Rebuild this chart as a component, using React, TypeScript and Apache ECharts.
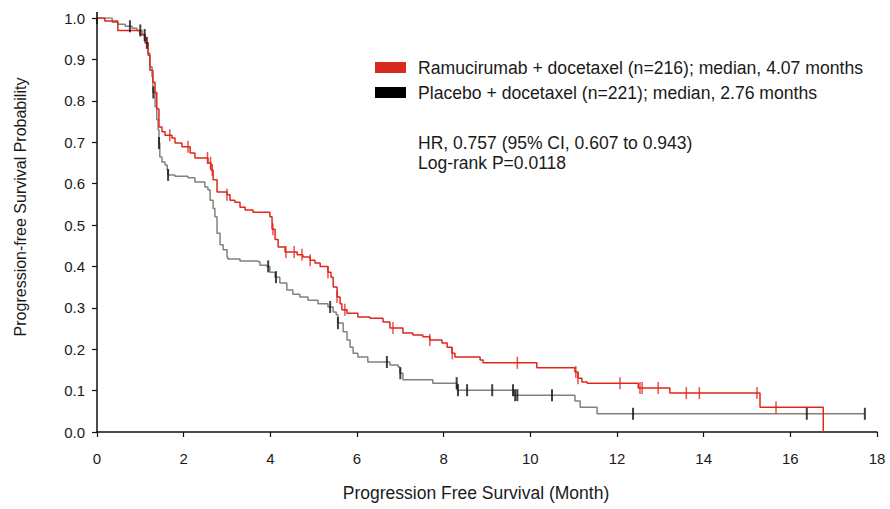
import React, { useEffect, useRef } from "react";
import * as echarts from "echarts";

// Kaplan-Meier step points: [month, survival probability after the step]
const ramSteps: [number, number][] = [
  [0, 1.0], [0.18, 0.993], [0.48, 0.97], [0.99, 0.96], [1.11, 0.94], [1.18, 0.91],
  [1.22, 0.874], [1.29, 0.845], [1.34, 0.82], [1.38, 0.78], [1.43, 0.737], [1.5, 0.725],
  [1.57, 0.717], [1.73, 0.71], [1.8, 0.698], [1.96, 0.689], [2.15, 0.674], [2.26, 0.662],
  [2.56, 0.65], [2.63, 0.633], [2.68, 0.609], [2.77, 0.58], [3.0, 0.573], [3.07, 0.56],
  [3.18, 0.555], [3.3, 0.543], [3.42, 0.536], [3.6, 0.531], [3.99, 0.52], [4.04, 0.49],
  [4.11, 0.465], [4.18, 0.447], [4.34, 0.435], [4.62, 0.428], [4.75, 0.423], [4.92, 0.415],
  [5.03, 0.408], [5.15, 0.4], [5.33, 0.386], [5.4, 0.374], [5.45, 0.35], [5.54, 0.326],
  [5.61, 0.31], [5.65, 0.295], [5.77, 0.287], [6.02, 0.278], [6.3, 0.275], [6.6, 0.266],
  [6.76, 0.251], [7.06, 0.239], [7.29, 0.234], [7.52, 0.23], [7.68, 0.222], [7.96, 0.215],
  [8.08, 0.205], [8.19, 0.19], [8.26, 0.181], [8.84, 0.174], [8.91, 0.167], [10.15, 0.155],
  [11.03, 0.145], [11.1, 0.13], [11.19, 0.121], [11.31, 0.118], [12.49, 0.106],
  [13.22, 0.094], [15.3, 0.06], [16.76, 0.0],
];

const plaSteps: [number, number][] = [
  [0, 1.0], [0.35, 0.99], [0.48, 0.985], [0.65, 0.98], [0.81, 0.975], [0.92, 0.97],
  [1.04, 0.959], [1.11, 0.94], [1.18, 0.915], [1.22, 0.882], [1.27, 0.858], [1.29, 0.82],
  [1.34, 0.785], [1.38, 0.754], [1.41, 0.73], [1.43, 0.698], [1.45, 0.664], [1.5, 0.652],
  [1.57, 0.645], [1.62, 0.633], [1.64, 0.621], [1.8, 0.618], [2.1, 0.614], [2.26, 0.604],
  [2.49, 0.592], [2.56, 0.585], [2.61, 0.56], [2.68, 0.54], [2.72, 0.52], [2.77, 0.48],
  [2.84, 0.452], [2.91, 0.44], [3.0, 0.423], [3.02, 0.418], [3.3, 0.413], [3.72, 0.411],
  [3.76, 0.403], [3.92, 0.4], [3.99, 0.386], [4.11, 0.374], [4.22, 0.36], [4.38, 0.343],
  [4.52, 0.333], [4.68, 0.326], [4.87, 0.318], [5.1, 0.31], [5.33, 0.302], [5.45, 0.29],
  [5.52, 0.283], [5.56, 0.263], [5.68, 0.242], [5.77, 0.222], [5.84, 0.205], [5.91, 0.19],
  [6.02, 0.181], [6.25, 0.169], [6.76, 0.162], [6.95, 0.157], [6.99, 0.142], [7.06, 0.126],
  [7.75, 0.118], [8.31, 0.101], [9.62, 0.089], [11.03, 0.075], [11.15, 0.06],
  [11.54, 0.044], [17.72, 0.044],
];

// Censoring times (months)
const ramCensor: number[] = [
  1.68, 2.1, 2.55, 2.62, 2.66, 3.0, 4.06, 4.36, 4.55, 4.73, 4.92, 5.33, 5.54, 5.72,
  6.83, 7.68, 8.2, 9.7, 11.05, 11.1, 12.07, 12.53, 12.58, 12.95, 13.6, 13.9, 15.23, 15.67,
];
const plaCensor: number[] = [
  0.0, 0.76, 1.0, 1.1, 1.15, 1.3, 1.43, 1.64, 3.95, 4.13, 5.38, 5.56, 6.69, 7.0, 8.3,
  8.33, 8.54, 9.12, 9.6, 9.65, 9.7, 10.5, 12.37, 16.38, 17.72,
];

const xTicks = { min: 0, max: 18, interval: 2 };
const yTicks = { min: 0, max: 1, interval: 0.1 };

const legendLabels = [
  "Ramucirumab + docetaxel (n=216); median, 4.07 months",
  "Placebo + docetaxel (n=221); median, 2.76 months",
];
const statLines = ["HR, 0.757 (95% CI, 0.607 to 0.943)", "Log-rank P=0.0118"];
const xTitle = "Progression Free Survival (Month)";
const yTitle = "Progression-free Survival Probability";

const RED = "#e1261c";
const GREY = "#8a7f78";
const FONT = "Liberation Sans, Arial, sans-serif";

function survivalAt(steps: [number, number][], t: number): number {
  let s = steps[0][1];
  for (const [time, val] of steps) {
    if (time <= t) s = val;
    else break;
  }
  return s;
}

export default function App() {
  const ref = useRef<HTMLDivElement>(null);
  useEffect(() => {
    if (!ref.current) return;
    const chart = echarts.init(ref.current, undefined, { renderer: "svg" });
    const axisLabelStyle = { fontSize: 15, color: "#1a1a1a", fontFamily: FONT };
    chart.setOption({
      animation: false,
      grid: { left: 97, right: 13, top: 18, bottom: 77, containLabel: false },
      xAxis: {
        type: "value",
        ...xTicks,
        offset: 4,
        axisLine: { show: true, lineStyle: { color: "#111", width: 1.5 } },
        axisTick: { show: true, inside: false, length: 5, lineStyle: { color: "#111", width: 1.2 } },
        axisLabel: { ...axisLabelStyle, margin: 15 },
        splitLine: { show: false },
      },
      yAxis: {
        type: "value",
        ...yTicks,
        axisLine: { show: true, lineStyle: { color: "#111", width: 1.5 } },
        axisTick: { show: true, inside: false, length: 5, lineStyle: { color: "#111", width: 1.2 } },
        axisLabel: { ...axisLabelStyle, margin: 12, formatter: (v: number) => v.toFixed(1) },
        splitLine: { show: false },
      },
      series: [
        {
          type: "line",
          name: legendLabels[1],
          step: "end",
          data: plaSteps,
          showSymbol: false,
          lineStyle: { color: GREY, width: 1.5 },
          itemStyle: { color: GREY },
          z: 2,
        },
        {
          type: "line",
          name: legendLabels[0],
          step: "end",
          data: ramSteps,
          showSymbol: false,
          lineStyle: { color: RED, width: 1.5 },
          itemStyle: { color: RED },
          z: 3,
        },
        {
          type: "scatter",
          data: plaCensor.map((t) => [t, survivalAt(plaSteps, t)]),
          symbol: "rect",
          symbolSize: [2, 12],
          itemStyle: { color: "#111" },
          z: 4,
        },
        {
          type: "scatter",
          data: ramCensor.map((t) => [t, survivalAt(ramSteps, t)]),
          symbol: "rect",
          symbolSize: [1.5, 12],
          itemStyle: { color: RED },
          z: 5,
        },
      ],
      graphic: [
        { type: "rect", shape: { x: 375, y: 62, width: 31, height: 11 }, style: { fill: "#d42a20" } },
        { type: "rect", shape: { x: 375, y: 87, width: 31, height: 11 }, style: { fill: "#000" } },
        {
          type: "text", x: 418, y: 68,
          style: { text: legendLabels[0], font: `17.6px ${FONT}`, fill: "#1a1a1a", verticalAlign: "middle" },
        },
        {
          type: "text", x: 418, y: 93,
          style: { text: legendLabels[1], font: `17.6px ${FONT}`, fill: "#1a1a1a", verticalAlign: "middle" },
        },
        {
          type: "text", x: 418, y: 143,
          style: { text: statLines[0], font: `17.5px ${FONT}`, fill: "#1a1a1a", verticalAlign: "middle" },
        },
        {
          type: "text", x: 418, y: 163,
          style: { text: statLines[1], font: `17.5px ${FONT}`, fill: "#1a1a1a", verticalAlign: "middle" },
        },
        {
          type: "text", x: 476, y: 493,
          style: { text: xTitle, font: `17.5px ${FONT}`, fill: "#1a1a1a", align: "center", verticalAlign: "middle" },
        },
        {
          type: "text", x: 20, y: 207, rotation: Math.PI / 2,
          style: { text: yTitle, font: `16px ${FONT}`, fill: "#1a1a1a", align: "center", verticalAlign: "middle" },
        },
      ],
    });
    return () => chart.dispose();
  }, []);
  return <div ref={ref} style={{ width: 890, height: 509, position: "absolute", left: 0, top: 0 }} />;
}
